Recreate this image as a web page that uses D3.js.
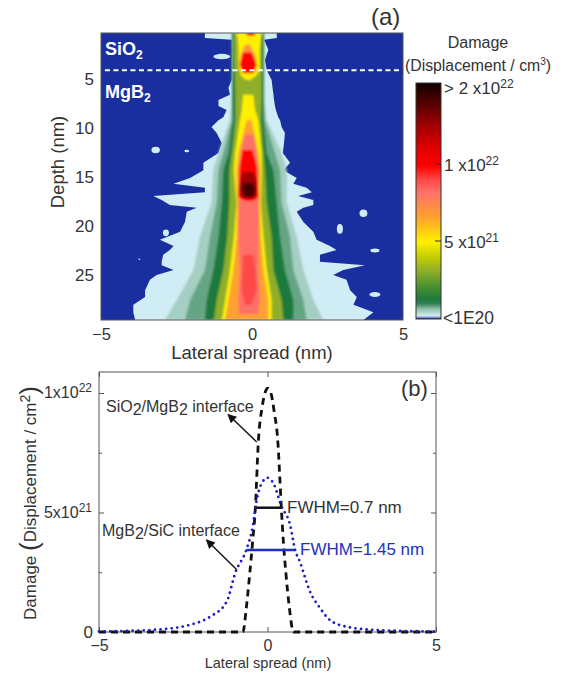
<!DOCTYPE html>
<html lang="en">
<head>
<meta charset="UTF-8">
<title>Damage profile</title>
<script src="https://cdn.jsdelivr.net/npm/d3@7/dist/d3.min.js"></script>
<style>
    html, body { margin: 0; background: #fff; }
    svg { display: block; }
    text { font-family: "Liberation Sans", Arial, sans-serif; fill: #333; }
    .axis path { display: none; }
    .axis line { stroke: #555; }
</style>
</head>
<body>
<script>
// colour bar: value in units of 1e21
var barValues = [20, 17.3, 14.8, 12, 9.9, 9, 8.2, 6.6, 5.6, 5, 4.1, 3.1, 2.1, 1.3, 1, 0.65, 0.2, 0];
var barColors = ["#120000", "#5a0000", "#a00000", "#e00000", "#ff0000", "#ff4848", "#ff7068", "#ffa030", "#ffd010", "#fff000",
    "#c8d000", "#8fae2a", "#4a9030", "#1e7a3c", "#2f8055", "#8fc0a8", "#d0ecf5", "#1a2f9f"];

// panel (a): outermost contour, nm
var paleDepth = [0.3, 0.8, 1, 2, 3.05, 4.1, 5.1, 5.9, 6.6, 7.15, 7.75, 8.15, 8.9, 9.2, 9.9, 10.5, 11.55, 12.55, 13.55, 14.3, 15.1, 15.7, 16.1, 16.55, 16.95, 17.35, 17.85, 18.15, 18.55, 19.6, 20.6, 21.4, 22.05, 22.45, 22.95, 23.65, 24, 24.5, 25, 25.5, 26.55, 27.25, 28.05, 28.8, 29.6];
var paleLeft = [-1.56, -1.56, -0.67, -0.67, -0.67, -0.67, -0.67, -0.78, -0.73, -1.11, -1.11, -0.84, -0.95, -1.11, -1.34, -1.17, -1, -1.11, -1.61, -1.61, -2.05, -2.6, -1.56, -1.56, -3.27, -2.99, -2.72, -1.83, -2.16, -2.22, -2.38, -3.05, -2.6, -2.72, -2.94, -2.99, -2.99, -2.6, -3.16, -3.38, -3.54, -3.54, -3.93, -3.93, -3.87];
var paleRight = [0.82, 0.82, 0.4, 0.54, 0.43, 0.49, 0.65, 0.68, 0.71, 0.73, 0.76, 0.79, 0.87, 0.93, 0.98, 1.09, 1.06, 1.02, 1.26, 1.04, 1.48, 1.37, 1.81, 1.98, 1.53, 2.03, 2.03, 1.7, 1.48, 1.7, 2.03, 2.14, 2.58, 2.8, 2.25, 2.25, 3.74, 3.02, 2.69, 3.13, 3.25, 3.47, 3.36, 4.02, 3.69];

// inner contours share these rows
var coreDepth = [0.3, 3.05, 5.1, 7.15, 9.2, 12.55, 14.3, 17.65, 21.1, 24.5, 27.55, 29.6];
var lightGreenLeft = [-0.67, -0.67, -0.67, -0.67, -0.73, -1.11, -1.28, -1.34, -1.72, -1.94, -2.49, -2.88];
var lightGreenRight = [0.4, 0.4, 0.4, 0.4, 0.49, 0.98, 1.15, 1.15, 1.48, 1.7, 2.03, 2.36];
var midGreenLeft = [-0.67, -0.67, -0.67, -0.67, -0.67, -0.95, -1.11, -1.17, -1.39, -1.56, -2.05, -2.22];
var midGreenRight = [0.4, 0.4, 0.4, 0.4, 0.43, 0.76, 0.93, 0.98, 1.26, 1.37, 1.7, 1.81];
var darkGreenLeft = [-0.66, -0.66, -0.64, -0.64, -0.64, -0.78, -0.95, -1, -1.11, -1.28, -1.5, -1.56];
var darkGreenRight = [0.38, 0.38, 0.38, 0.38, 0.38, 0.49, 0.71, 0.82, 0.93, 1.09, 1.37, 1.37];
var oliveLeft = [-0.6, -0.6, -0.56, -0.55, -0.55, -0.67, -0.75, -0.75, -0.82, -0.95, -1.17, -1.26];
var oliveRight = [0.32, 0.32, 0.32, 0.32, 0.29, 0.38, 0.43, 0.49, 0.65, 0.71, 0.98, 1.04];

// hot spot in the oxide
var oxideYellowDepth = [0.3, 1, 2, 3.05, 4.1, 4.75, 5.1];
var oxideYellowLeft = [-0.51, -0.47, -0.45, -0.45, -0.43, -0.34, -0.18];
var oxideYellowRight = [0.32, 0.29, 0.26, 0.26, 0.26, 0.1, -0.07];
var oxideOrangeDepth = [1.5, 2.55, 3.55, 4.3];
var oxideOrangeLeft = [-0.23, -0.38, -0.42, -0.34];
var oxideOrangeRight = [-0.07, 0.1, 0.15, 0.1];
var oxideRedDepth = [2.3, 3.55, 4.4];
var oxideRedLeft = [-0.29, -0.4, -0.29];
var oxideRedRight = [-0.01, 0.15, 0.04];
var topRedDepth = [0.3, 0.6];
var topRedLeft = [-0.23, -0.12];
var topRedRight = [0.15, 0.04];

// plume in the MgB2
var plumeYellowDepth = [6.6, 8.15, 9.2, 12.55, 14.3, 17.65, 21.1, 24.5, 27.55, 29.6];
var plumeYellowLeft = [-0.29, -0.34, -0.4, -0.56, -0.6, -0.51, -0.6, -0.73, -0.89, -1];
var plumeYellowRight = [0.04, 0.1, 0.21, 0.32, 0.32, 0.29, 0.38, 0.49, 0.65, 0.65];
var plumeOrangeDepth = [9.2, 12.55, 14.3, 17.65, 21.1, 24.5, 27.55, 29.6];
var plumeOrangeLeft = [-0.18, -0.45, -0.51, -0.49, -0.51, -0.62, -0.78, -0.89];
var plumeOrangeRight = [-0.01, 0.21, 0.26, 0.26, 0.29, 0.38, 0.54, 0.54];
var plumeSalmonDepth = [10.7, 12.55, 14.3, 17.65, 21.1, 24.5, 27.55, 29];
var plumeSalmonLeft = [-0.23, -0.37, -0.45, -0.43, -0.45, -0.4, -0.45, -0.42];
var plumeSalmonRight = [0.04, 0.15, 0.21, 0.21, 0.21, 0.21, 0.26, 0.2];
var lowerRedDepth = [22.95, 24.5, 26.55, 28.05];
var lowerRedLeft = [-0.29, -0.32, -0.34, -0.23];
var lowerRedRight = [0.04, 0.12, 0.15, -0.01];
var coreRedDepth = [12.25, 13.8, 15.3, 17.05, 17.45];
var coreRedLeft = [-0.31, -0.4, -0.43, -0.45, -0.23];
var coreRedRight = [0.01, 0.15, 0.19, 0.21, 0.04];
var coreDarkDepth = [14.5, 15.3, 16.3, 17.15];
var coreDarkLeft = [-0.31, -0.37, -0.42, -0.34];
var coreDarkRight = [0.04, 0.13, 0.18, 0.1];
var coreBlackDepth = [15.6, 16.3, 17.05];
var coreBlackLeft = [-0.29, -0.32, -0.23];
var coreBlackRight = [0.02, 0.1, 0.04];

// stray specks outside the main contour
var speckX = [-1, -3.19, -2.16, 3.69, 2.91, 4.07, 4.07, 2.53, -2.85, -3.73];
var speckDepth = [2.7, 12.25, 12.35, 18.7, 20.3, 22.5, 27, 24.3, 20.7, 23.4];
var speckRx = [0.28, 0.14, 0.08, 0.13, 0.1, 0.15, 0.18, 0.13, 0.1, 0.03];
var speckRy = [0.27, 0.33, 0.12, 0.38, 0.5, 0.2, 0.25, 0.2, 0.35, 0.08];

var interfaceDepth = 4.1;
var depthTicks = [5, 10, 15, 20, 25];
var lateralTicks = [-5, 0, 5];

// panel (b), values in units of 1e21
var oxideX = [-5, -1.5, -0.73, -0.63, -0.53, -0.44, -0.36, -0.27, -0.16, -0.05, 0, 0.1, 0.2, 0.31, 0.36, 0.41, 0.47, 0.55, 0.65, 0.77, 1, 5];
var oxideY = [0, 0, 0, 1, 2.4, 3.8, 5.2, 8, 9.4, 10.1, 10.2, 10, 9.2, 7.9, 6.6, 5.2, 3.8, 2.4, 1, 0, 0, 0];
var sicX = [-5, -3.3, -2.3, -1.7, -1.21, -0.95, -0.63, -0.43, -0.33, -0.18, 0, 0.2, 0.4, 0.67, 0.82, 0.96, 1.26, 1.56, 1.85, 2.35, 3.13, 5];
var sicY = [0.02, 0.1, 0.3, 0.64, 1.27, 2.5, 3.43, 4.48, 5.45, 6.2, 6.45, 6.15, 5.3, 4.48, 3.43, 2.94, 1.69, 1, 0.5, 0.22, 0.09, 0.02];
var damageTicks = [0, 5, 10];
var damageMinor = [2.5, 7.5];
var oxideFwhm = [-0.33, 0.41, 5.2];
var sicFwhm = [-0.63, 0.82, 3.43];
// arrow tail x, tail y, head x, head y
var oxideArrow = [-0.32, 7.95, -1.17, 9.1];
var sicArrow = [-0.91, 2.6, -1.81, 3.85];

var svg = d3.select("body").append("svg").attr("width", 563).attr("height", 675);
var defs = svg.append("defs");

var colorScale = d3.scaleLinear().domain(barValues).range(barColors);

// ---------- panel (a) ----------
var a = {left: 101, right: 403, top: 33, bottom: 320};
var xA = d3.scaleLinear().domain([-5, 5]).range([a.left, a.right]);
var yA = d3.scaleLinear().domain([0.3, 29.6]).range([a.top, a.bottom]);

defs.append("clipPath").attr("id", "plotClip").append("rect")
    .attr("x", a.left).attr("y", a.top).attr("width", a.right - a.left).attr("height", a.bottom - a.top);
defs.append("filter").attr("id", "softEdge").attr("x", "-20%").attr("y", "-20%").attr("width", "140%").attr("height", "140%")
    .append("feGaussianBlur").attr("stdDeviation", 0.5);
defs.append("filter").attr("id", "softCore").attr("x", "-30%").attr("y", "-20%").attr("width", "160%").attr("height", "140%")
    .append("feGaussianBlur").attr("stdDeviation", 1.2);

svg.append("rect").attr("x", a.left).attr("y", a.top).attr("width", a.right - a.left).attr("height", a.bottom - a.top)
    .attr("fill", colorScale(0));

var plot = svg.append("g").attr("clip-path", "url(#plotClip)");

function band(g, level, depth, left, right) {
    var rows = d3.range(depth.length);
    var area = d3.area()
        .y(function(i){ return yA(depth[i]); })
        .x0(function(i){ return xA(left[i]); })
        .x1(function(i){ return xA(right[i]); });
    g.append("path").attr("d", area(rows)).attr("fill", colorScale(level));
}

var edge = plot.append("g").attr("filter", "url(#softEdge)");
band(edge, 0.2, paleDepth, paleLeft, paleRight);
edge.selectAll("ellipse").data(speckX).enter().append("ellipse")
    .attr("cx", function(d){ return xA(d); })
    .attr("cy", function(d, i){ return yA(speckDepth[i]); })
    .attr("rx", function(d, i){ return xA(speckRx[i]) - xA(0); })
    .attr("ry", function(d, i){ return yA(speckRy[i]) - yA(0); })
    .attr("fill", colorScale(0.2));

var core = plot.append("g").attr("filter", "url(#softCore)");
band(core, 0.5, coreDepth, lightGreenLeft, lightGreenRight);
band(core, 0.8, coreDepth, midGreenLeft, midGreenRight);
band(core, 1.3, coreDepth, darkGreenLeft, darkGreenRight);
band(core, 3.1, coreDepth, oliveLeft, oliveRight);
band(core, 5, oxideYellowDepth, oxideYellowLeft, oxideYellowRight);
band(core, 7, oxideOrangeDepth, oxideOrangeLeft, oxideOrangeRight);
band(core, 10, oxideRedDepth, oxideRedLeft, oxideRedRight);
band(core, 11, topRedDepth, topRedLeft, topRedRight);
band(core, 5, plumeYellowDepth, plumeYellowLeft, plumeYellowRight);
band(core, 6.6, plumeOrangeDepth, plumeOrangeLeft, plumeOrangeRight);
band(core, 8.2, plumeSalmonDepth, plumeSalmonLeft, plumeSalmonRight);
band(core, 9, lowerRedDepth, lowerRedLeft, lowerRedRight);
band(core, 10, coreRedDepth, coreRedLeft, coreRedRight);
band(core, 14.8, coreDarkDepth, coreDarkLeft, coreDarkRight);
band(core, 18, coreBlackDepth, coreBlackLeft, coreBlackRight);

svg.append("line").attr("x1", xA(-4.87)).attr("x2", xA(4.95)).attr("y1", yA(interfaceDepth)).attr("y2", yA(interfaceDepth))
    .attr("stroke", "#fff").attr("stroke-width", 2).attr("stroke-dasharray", "5,3.5");

svg.append("rect").attr("x", a.left).attr("y", a.top).attr("width", a.right - a.left).attr("height", a.bottom - a.top)
    .attr("fill", "none").attr("stroke", "#555").attr("stroke-width", 1);

var xAxisA = svg.append("g").attr("class", "axis").attr("transform", "translate(0," + a.bottom + ")")
    .call(d3.axisBottom(xA).tickValues(lateralTicks).tickSize(0).tickPadding(8));
xAxisA.selectAll("text").style("font-size", "16.5px");
var yAxisA = svg.append("g").attr("class", "axis").attr("transform", "translate(" + a.left + ",0)")
    .call(d3.axisLeft(yA).tickValues(depthTicks).tickSize(0).tickPadding(7));
yAxisA.selectAll("text").style("font-size", "17px");

function label(x, y, size, anchor, fill) {
    return svg.append("text").attr("x", x).attr("y", y).attr("text-anchor", anchor || "start")
        .style("font-size", size + "px").style("fill", fill || "#333");
}
// small script piece after a base string
function script(t, str, dy, size) {
    t.append("tspan").attr("dy", dy).style("font-size", size + "px").text(str);
}

label(371, 25, 24).text("(a)");
label(252, 359, 18.5, "middle").text("Lateral spread (nm)");
label(0, 0, 18.5, "middle").attr("transform", "translate(64,162) rotate(-90)").text("Depth (nm)");

var t = label(105, 55, 18, "start", "#fff").style("font-weight", "bold").text("SiO");
script(t, "2", 4, 12);
t = label(105, 98, 18, "start", "#fff").style("font-weight", "bold").text("MgB");
script(t, "2", 4, 12);

label(478, 48, 16, "middle").text("Damage");
t = label(405, 71, 15.8).text("(Displacement / cm");
script(t, "3", -6, 10);
t.append("tspan").attr("dy", 6).text(")");

// colour bar
var barY = d3.scaleLinear().domain([0, 5, 10, 20]).range([318, 241, 164, 83]);
var grad = defs.append("linearGradient").attr("id", "barGradient").attr("x1", 0).attr("x2", 0).attr("y1", 0).attr("y2", 1);
grad.selectAll("stop").data(barValues).enter().append("stop")
    .attr("offset", function(d){ return (barY(d) - 83) / (barY(0) - 83); })
    .attr("stop-color", function(d, i){ return barColors[i]; });
svg.append("rect").attr("x", 416).attr("y", barY(20)).attr("width", 25).attr("height", barY(0) - barY(20) + 1)
    .attr("fill", "url(#barGradient)").attr("stroke", "#333").attr("stroke-width", 1);
svg.selectAll(".barTick").data([5, 10]).enter().append("line").attr("class", "barTick")
    .attr("x1", 435).attr("x2", 441)
    .attr("y1", function(d){ return barY(d); }).attr("y2", function(d){ return barY(d); })
    .attr("stroke", "#333");

t = label(444, barY(20) + 11, 17).text("> 2 x10");
script(t, "22", -6, 12);
t = label(444, barY(10) + 7, 17).text("1 x10");
script(t, "22", -6, 12);
t = label(444, barY(5) + 7, 17).text("5 x10");
script(t, "21", -6, 12);
label(443, barY(0) + 6, 17.5).text("<1E20");

// ---------- panel (b) ----------
var b = {left: 99, right: 436, top: 372, bottom: 632};
var xB = d3.scaleLinear().domain([-5, 5]).range([b.left, b.right]);
var yB = d3.scaleLinear().domain([0, 10]).range([b.bottom, 393]);

function tickGroup(axis, tx, ty) {
    return svg.append("g").attr("class", "axis").attr("transform", "translate(" + tx + "," + ty + ")").call(axis);
}
var xAxisB = tickGroup(d3.axisBottom(xB).tickValues(lateralTicks).tickSize(-5).tickPadding(8), 0, b.bottom);
xAxisB.selectAll("text").style("font-size", "16px");
tickGroup(d3.axisTop(xB).tickValues(lateralTicks).tickSize(-5).tickFormat(""), 0, b.top);
var yAxisB = tickGroup(d3.axisLeft(yB).tickValues(damageTicks).tickSize(-5).tickPadding(8).tickFormat(""), b.left, 0);
tickGroup(d3.axisRight(yB).tickValues(damageTicks).tickSize(-5).tickFormat(""), b.right, 0);
tickGroup(d3.axisLeft(yB).tickValues(damageMinor).tickSize(-3).tickFormat(""), b.left, 0);
tickGroup(d3.axisRight(yB).tickValues(damageMinor).tickSize(-3).tickFormat(""), b.right, 0);

svg.append("rect").attr("x", b.left).attr("y", b.top).attr("width", b.right - b.left).attr("height", b.bottom - b.top)
    .attr("fill", "none").attr("stroke", "#555").attr("stroke-width", 1);

var curve = d3.line().curve(d3.curveMonotoneX)
    .x(function(d){ return xB(d[0]); })
    .y(function(d){ return yB(d[1]); });

svg.append("path").attr("d", curve(d3.zip(oxideX, oxideY)))
    .attr("fill", "none").attr("stroke", "#111").attr("stroke-width", 2.8).attr("stroke-dasharray", "7,5");
svg.append("path").attr("d", curve(d3.zip(sicX, sicY)))
    .attr("fill", "none").attr("stroke", "#1c1cc4").attr("stroke-width", 2.8)
    .attr("stroke-linecap", "round").attr("stroke-dasharray", "0,5.6");

function hline(f, color) {
    svg.append("line").attr("x1", xB(f[0])).attr("x2", xB(f[1])).attr("y1", yB(f[2])).attr("y2", yB(f[2]))
        .attr("stroke", color).attr("stroke-width", 2.5);
}
hline(oxideFwhm, "#111");
hline(sicFwhm, "#1c2fc4");

defs.append("marker").attr("id", "head").attr("viewBox", "0 0 10 10").attr("refX", 9).attr("refY", 5)
    .attr("markerWidth", 11).attr("markerHeight", 9).attr("markerUnits", "userSpaceOnUse").attr("orient", "auto")
    .append("path").attr("d", "M0,0L10,5L0,10Z").attr("fill", "#111");
[oxideArrow, sicArrow].forEach(function(p){
    svg.append("line").attr("x1", xB(p[0])).attr("y1", yB(p[1])).attr("x2", xB(p[2])).attr("y2", yB(p[3]))
        .attr("stroke", "#111").attr("stroke-width", 1.4).attr("marker-end", "url(#head)");
});

label(401, 396, 22).text("(b)");

t = label(92, yB(10) + 5, 16, "end").text("1x10");
script(t, "22", -6, 12);
t = label(92, yB(5) + 5, 16, "end").text("5x10");
script(t, "21", -6, 12);
label(93, yB(0) + 6, 17, "end").text("0");

t = label(0, 0, 17, "middle").attr("transform", "translate(36,503) rotate(-90)").text("Damage ");
t.append("tspan").style("font-size", "26px").attr("dy", 2).text("(");
t.append("tspan").attr("dy", -2).text("Displacement / cm");
script(t, "2", -6, 14);
t.append("tspan").style("font-size", "26px").attr("dy", 8).text(")");

label(268, 668, 14.5, "middle").text("Lateral spread (nm)");

t = label(106, 412, 16).text("SiO");
t.append("tspan").attr("dy", 3).text("2");
t.append("tspan").attr("dy", -3).text("/MgB");
t.append("tspan").attr("dy", 3).text("2");
t.append("tspan").attr("dy", -3).text(" interface");

t = label(102, 536, 16).text("MgB");
t.append("tspan").attr("dy", 3).text("2");
t.append("tspan").attr("dy", -3).text("/SiC interface");

label(287, 513, 17).text("FWHM=0.7 nm");
label(300, 555, 17, "start", "#2233bb").text("FWHM=1.45 nm");
</script>
</body>
</html>
